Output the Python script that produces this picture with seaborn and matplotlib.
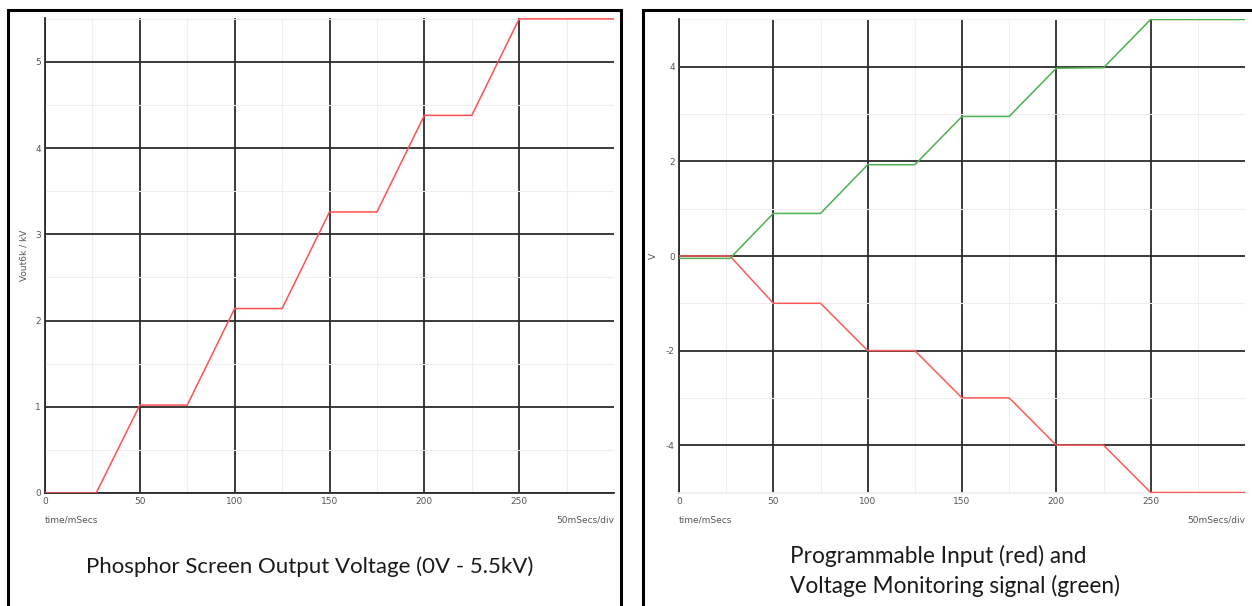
import numpy as np
import pandas as pd
import matplotlib.pyplot as plt
import seaborn as sns
from matplotlib.patches import Rectangle
from matplotlib.ticker import MultipleLocator, FixedLocator

# data (time in mSecs)
t = [0, 27, 50, 75, 100, 125, 150, 175, 200, 225, 250, 300]
vout_kv = [0, 0, 1.02, 1.02, 2.14, 2.14, 3.26, 3.26, 4.38, 4.38, 5.5, 5.5]
prog_in = [0, 0, -1, -1, -2, -2, -3, -3, -4, -4, -5, -5]
v_mon = [-0.05, -0.05, 0.9, 0.9, 1.93, 1.93, 2.95, 2.95, 3.97, 3.98, 5.0, 5.0]
x_ticks = [0, 50, 100, 150, 200, 250]

left_title = "Phosphor Screen Output Voltage (0V - 5.5kV)"
right_title = "Programmable Input (red) and\nVoltage Monitoring signal (green)"

sns.set_style("white")
plt.rcParams['font.family'] = ['DejaVu Sans']
plt.rcParams['axes.unicode_minus'] = False

W, H = 1252, 606
fig = plt.figure(figsize=(W / 100, H / 100), dpi=100)


def px_axes(x0, y0, x1, y1):
    # pixel box (top-left origin) -> figure axes
    return fig.add_axes([x0 / W, 1 - y1 / H, (x1 - x0) / W, (y1 - y0) / H])


def style_scope(ax, ylim, ymajor, yminor, bottom_col):
    ax.set_xlim(0, 300)
    ax.set_ylim(*ylim)
    ax.xaxis.set_major_locator(FixedLocator(x_ticks))
    ax.xaxis.set_minor_locator(MultipleLocator(25))
    ax.yaxis.set_major_locator(MultipleLocator(ymajor))
    ax.yaxis.set_minor_locator(MultipleLocator(yminor))
    ax.grid(which='major', color='#2b2b2b', linewidth=1.3)
    ax.grid(which='minor', color='#eeeeee', linewidth=0.8)
    ax.set_axisbelow(True)
    ax.tick_params(which='both', length=0, labelsize=6.5, labelcolor='#555555', pad=3)
    ax.set_xlabel('')
    for s in ['top', 'right']:
        ax.spines[s].set_visible(False)
    ax.spines['left'].set_color('#2b2b2b')
    ax.spines['left'].set_linewidth(1.3)
    ax.spines['bottom'].set_color(bottom_col)
    ax.spines['bottom'].set_linewidth(1.3)


# left panel
ax1 = px_axes(45, 18, 614, 493)
sns.lineplot(x=t, y=vout_kv, ax=ax1, color='#ff5050', linewidth=1.1, zorder=3)
style_scope(ax1, (0, 5.51), 1, 0.5, '#2b2b2b')
ax1.set_ylabel('Vout6k / kV', fontsize=6.5, color='#555555', labelpad=5)

# right panel
ax2 = px_axes(679, 19, 1245, 493)
sns.lineplot(x=t, y=prog_in, ax=ax2, color='#ff5a5a', linewidth=1.1, zorder=3)
sns.lineplot(x=t, y=v_mon, ax=ax2, color='#4caf50', linewidth=1.1, zorder=3)
style_scope(ax2, (-5.01, 5.01), 2, 1, '#eeeeee')
ax2.set_ylabel('V', fontsize=6.5, color='#555555', labelpad=6)

for ax, x0, x1 in [(ax1, 45, 614), (ax2, 679, 1245)]:
    fig.text(x0 / W, 1 - 520 / H, 'time/mSecs', fontsize=6.5, color='#555555',
             ha='left', va='center')
    fig.text(x1 / W, 1 - 520 / H, '50mSecs/div', fontsize=6.5, color='#555555',
             ha='right', va='center')

# captions
fig.text(310 / W, 1 - 567 / H, left_title, fontsize=16, family=['Lato', 'DejaVu Sans'],
         color='#1a1a1a', ha='center', va='center')
fig.text(790 / W, 1 - 571 / H, right_title, fontsize=16.3, family=['Lato', 'DejaVu Sans'],
         color='#1a1a1a', ha='left', va='center', linespacing=1.45)

# panel frames
fig.patches.append(Rectangle((8 / W, -0.05), 613 / W, 1.05 - 10 / H, transform=fig.transFigure,
                             fill=False, edgecolor='black', linewidth=2.2))
fig.patches.append(Rectangle((643 / W, -0.05), 0.5, 1.05 - 10 / H, transform=fig.transFigure,
                             fill=False, edgecolor='black', linewidth=2.2))

plt.savefig('out.png', dpi=100)
